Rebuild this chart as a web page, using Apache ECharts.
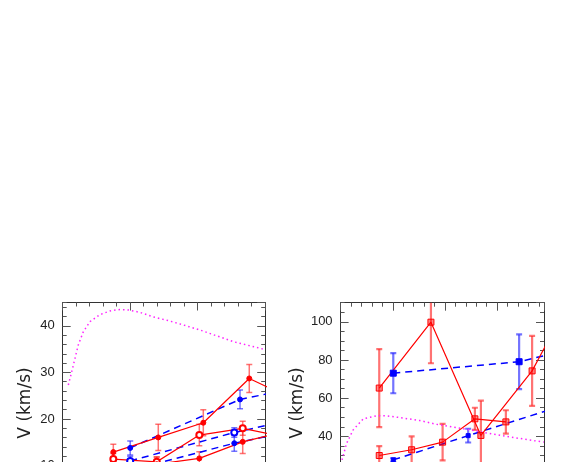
<!DOCTYPE html>
<html><head><meta charset="utf-8">
<script src="https://cdn.jsdelivr.net/npm/echarts@6/dist/echarts.min.js"></script>
<style>html,body{margin:0;padding:0;background:#fff}#c{width:574px;height:462px}</style>
</head><body><div id="c"></div>
<script>
// ---------- Left panel data ----------
const magL_x = [0.083, 0.133, 0.182, 0.231, 0.305, 0.404, 0.553, 0.701, 0.849, 0.972, 1.141, 1.342, 1.541, 1.713, 2.034, 2.527, 3.0];
const magL_y = [27.3, 30.1, 33.0, 35.9, 38.7, 40.9, 42.4, 43.2, 43.5, 43.4, 42.9, 41.9, 41.2, 40.5, 39.1, 36.6, 34.9];

const redA_x = [0.75, 1.416, 2.083, 2.764, 3.2];
const redA_y = [12.9, 16.05, 19.2, 28.7, 25.7];
const redA_e = [1.7, 2.8, 2.8, 3.0, 2.5];

const redB_x = [0.75, 1.393, 2.024, 2.667, 3.2];
const redB_y = [11.4, 10.8, 16.55, 18.0, 16.4];
const redB_e = [1.2, 1.1, 2.3, 1.5, 1.5];

const redC_x = [0.75, 1.393, 2.024, 2.667, 3.2];
const redC_y = [9.0, 10.3, 11.55, 15.1, 17.0];
const redC_e = [1.0, 1.5, 1.4, 2.5, 2.0];

const bluD_x = [1.0, 2.627, 3.2];
const bluD_y = [13.8, 24.2, 25.9];
const bluD_e = [1.5, 2.0, 2.0];

const bluE_x = [1.0, 2.542, 3.2];
const bluE_y = [11.0, 17.1, 19.2];
const bluE_e = [1.0, 1.0, 1.0];

const bluF_x = [1.0, 2.542, 3.2];
const bluF_y = [9.0, 14.8, 16.8];
const bluF_e = [1.0, 1.7, 1.5];

// ---------- Right panel data ----------
const magR_x = [0.027, 0.117, 0.243, 0.435, 0.692, 0.883, 1.201, 1.521, 1.841, 2.159, 2.703, 3.182, 3.897];
const magR_y = [27.7, 36.5, 43.5, 49.2, 50.8, 50.8, 49.6, 48.3, 46.3, 44.9, 42.3, 40.0, 37.0];

const redG_x = [0.741, 1.732, 2.69, 3.672, 4.0];
const redG_y = [65.3, 99.8, 40.5, 74.3, 91.0];
const redG_e = [20.4, 21.5, 18.2, 18.3, 15.0];

const redH_x = [0.741, 1.362, 1.956, 2.575, 3.169];
const redH_y = [30.0, 33.0, 37.0, 49.2, 47.6];
const redH_e = [4.9, 7.0, 9.6, 5.8, 6.1];

const bluI_x = [1.01, 3.423, 4.0];
const bluI_y = [73.1, 79.1, 82.9];
const bluI_e = [10.5, 14.3, 10.0];

const bluJ_x = [1.01, 2.446, 4.0];
const bluJ_y = [27.7, 40.4, 53.9];
const bluJ_e = [1.0, 3.6, 3.0];

// axis ranges / ticks
const yTicksL = {max: 45, major: 10, minor: 2};
const yTicksR = {max: 110, major: 20, minor: 5};
const xTicksL = {max: 3, major: 1, minor: 0.2};
const xTicksR = {max: 3.9, major: 1, minor: 0.2};

const GRID_L = {left: 62.7, top: 302.5, width: 202.5, height: 209.7};
const GRID_R = {left: 340.6, top: 302.7, width: 203.4, height: 210.1};

const RED = '#ff0000', BLUE = '#0000ff', MAG = '#ff22ff';
const RED_E = 'rgba(255,40,40,0.65)', BLUE_E = 'rgba(40,40,255,0.65)';
const FRAME = '#333', TICK = '#555';

const zip = (xs, ys) => xs.map((x, i) => [x, ys[i]]);

function xAxes(g, t, h) {
  return [
    {gridIndex: g, type: 'value', position: 'top', min: 0, max: t.max, interval: t.major,
     axisLine: {show: true, onZero: false, lineStyle: {color: FRAME, width: 1}},
     axisTick: {show: true, inside: true, length: 8, lineStyle: {color: TICK, width: 1}},
     axisLabel: {show: false}, splitLine: {show: false}},
    // minor ticks: bottom axis shifted up onto the top edge, ticks pointing down into the plot
    {gridIndex: g, type: 'value', position: 'bottom', offset: -h, min: 0, max: t.max, interval: t.minor,
     axisLine: {show: false, onZero: false},
     axisTick: {show: true, inside: false, length: 4, lineStyle: {color: TICK, width: 1}},
     axisLabel: {show: false}, splitLine: {show: false}}
  ];
}
function yAxes(g, t) {
  const base = (pos, intv, len, line, labels) => ({
    gridIndex: g, type: 'value', position: pos, min: 0, max: t.max, interval: intv,
    axisLine: {show: line, onZero: false, lineStyle: {color: FRAME, width: 1}},
    axisTick: {show: true, inside: true, length: len, lineStyle: {color: TICK, width: 1}},
    axisLabel: labels ? {show: true, inside: false, margin: 8, showMaxLabel: false,
      color: '#222', fontSize: 13, fontFamily: '"Liberation Sans", Arial, sans-serif'} : {show: false},
    splitLine: {show: false}
  });
  return [
    base('left', t.major, 8, true, true),
    base('left', t.minor, 4, false, false),
    base('right', t.major, 8, true, false),
    base('right', t.minor, 4, false, false)
  ];
}

function lineS(xs, ys, color, dash, width, symbol, size, xi, yi, fill) {
  return {
    type: 'line', xAxisIndex: xi, yAxisIndex: yi, data: zip(xs, ys),
    symbol: symbol || 'none', symbolSize: size || 0, showSymbol: !!symbol,
    clip: true, z: 3, silent: true,
    lineStyle: {color: color, width: width, type: dash},
    itemStyle: {color: fill || color, borderColor: color, borderWidth: 1}
  };
}
function errS(xs, ys, es, color, xi, yi, lw) {
  return {
    type: 'custom', xAxisIndex: xi, yAxisIndex: yi, clip: true, z: 2, silent: true,
    data: xs.map((x, i) => [x, ys[i] - es[i], ys[i] + es[i]]),
    encode: {x: 0, y: [1, 2]},
    renderItem(params, api) {
      const lo = api.coord([api.value(0), api.value(1)]);
      const hi = api.coord([api.value(0), api.value(2)]);
      const w = 3;
      const st = {stroke: color, lineWidth: lw, fill: null};
      return {type: 'group', children: [
        {type: 'line', shape: {x1: lo[0], y1: lo[1], x2: hi[0], y2: hi[1]}, style: st},
        {type: 'line', shape: {x1: lo[0] - w, y1: lo[1], x2: lo[0] + w, y2: lo[1]}, style: st},
        {type: 'line', shape: {x1: hi[0] - w, y1: hi[1], x2: hi[0] + w, y2: hi[1]}, style: st}
      ]};
    }
  };
}

const DASH = [7, 5], DOT = [1.5, 3];
const series = [
  lineS(magL_x, magL_y, MAG, DOT, 1.5, null, 0, 0, 0),
  errS(redA_x, redA_y, redA_e, RED_E, 0, 0, 1.5),
  errS(redB_x, redB_y, redB_e, RED_E, 0, 0, 1.5),
  errS(redC_x, redC_y, redC_e, RED_E, 0, 0, 1.5),
  errS(bluD_x, bluD_y, bluD_e, BLUE_E, 0, 0, 1.5),
  errS(bluE_x, bluE_y, bluE_e, BLUE_E, 0, 0, 1.5),
  errS(bluF_x, bluF_y, bluF_e, BLUE_E, 0, 0, 1.5),
  lineS(bluD_x, bluD_y, BLUE, DASH, 1.5, 'circle', 5, 0, 0),
  lineS(bluE_x, bluE_y, BLUE, DASH, 1.5, 'emptyCircle', 6, 0, 0),
  lineS(bluF_x, bluF_y, BLUE, DASH, 1.5, 'circle', 5, 0, 0),
  lineS(redA_x, redA_y, RED, 'solid', 1.2, 'circle', 5, 0, 0),
  lineS(redB_x, redB_y, RED, 'solid', 1.2, 'emptyCircle', 6, 0, 0),
  lineS(redC_x, redC_y, RED, 'solid', 1.2, 'circle', 5, 0, 0),

  lineS(magR_x, magR_y, MAG, DOT, 1.5, null, 0, 2, 4),
  errS(redG_x, redG_y, redG_e, RED_E, 2, 4, 2.2),
  errS(redH_x, redH_y, redH_e, RED_E, 2, 4, 2.2),
  errS(bluI_x, bluI_y, bluI_e, BLUE_E, 2, 4, 2.2),
  errS(bluJ_x, bluJ_y, bluJ_e, BLUE_E, 2, 4, 2.2),
  lineS(bluI_x, bluI_y, BLUE, DASH, 1.5, 'rect', 6, 2, 4),
  lineS(bluJ_x, bluJ_y, BLUE, DASH, 1.5, 'rect', 4, 2, 4),
  lineS(redG_x, redG_y, RED, 'solid', 1.2, 'rect', 6, 2, 4, 'rgba(255,0,0,0.45)'),
  lineS(redH_x, redH_y, RED, 'solid', 1.2, 'rect', 6, 2, 4, 'rgba(255,0,0,0.45)')
];

const nameStyle = {fill: '#222', font: '17px "DejaVu Sans", sans-serif', align: 'center', verticalAlign: 'middle'};

const option = {
  animation: false,
  backgroundColor: '#fff',
  grid: [
    Object.assign({containLabel: false, outerBoundsMode: 'none'}, GRID_L),
    Object.assign({containLabel: false, outerBoundsMode: 'none'}, GRID_R)
  ],
  xAxis: [...xAxes(0, xTicksL, GRID_L.height), ...xAxes(1, xTicksR, GRID_R.height)],
  yAxis: [...yAxes(0, yTicksL), ...yAxes(1, yTicksR)],
  graphic: [
    {type: 'text', x: 26, y: 403, rotation: Math.PI / 2, style: Object.assign({text: 'V (km/s)'}, nameStyle)},
    {type: 'text', x: 298, y: 403, rotation: Math.PI / 2, style: Object.assign({text: 'V (km/s)'}, nameStyle)}
  ],
  series: series
};

const chart = echarts.init(document.getElementById('c'));
chart.setOption(option);
</script></body></html>
